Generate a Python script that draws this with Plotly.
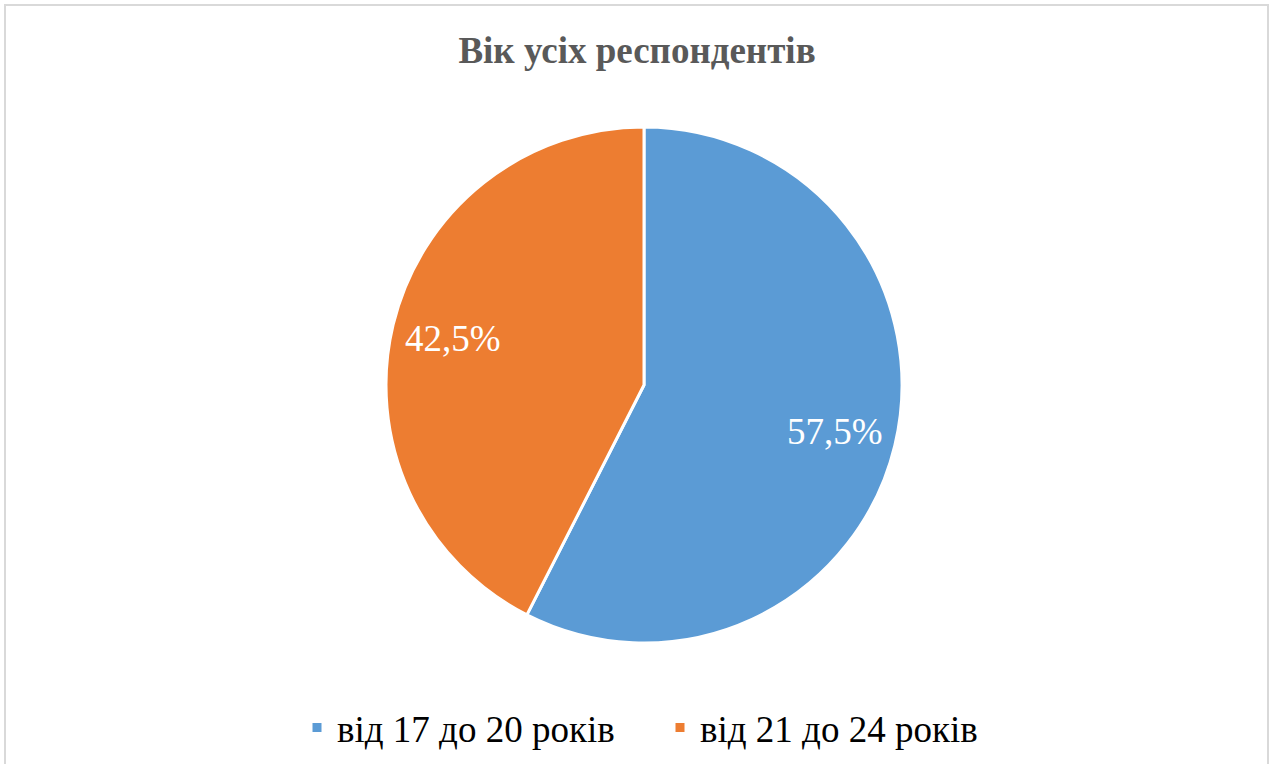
import math
import plotly.graph_objects as go

categories = ["від 17 до 20 років", "від 21 до 24 років"]
values = [57.5, 42.5]
colors = ["#5B9BD5", "#ED7D31"]
title_text = "Вік усіх респондентів"

W, H = 1273, 764
cx, cy, r = 644, 385, 258
FONT = "Liberation Serif, Times New Roman, serif"

fig = go.Figure(go.Pie(
    labels=categories,
    values=values,
    sort=False,
    direction="clockwise",
    rotation=0,
    marker=dict(colors=colors, line=dict(color="white", width=3)),
    textinfo="none",
    hoverinfo="label+percent",
    domain=dict(x=[(cx - r) / W, (cx + r) / W], y=[(H - cy - r) / H, (H - cy + r) / H]),
))

# data labels placed along each slice's mid-angle (Excel-style, ~0.76 radius)
total = sum(values)
cum = 0.0
annotations = []
for v in values:
    mid = (cum + v / 2) / total * 2 * math.pi
    cum += v
    dx = math.sin(mid) * r * 0.76
    dy = math.cos(mid) * r * 0.78
    annotations.append(dict(
        x=(cx + dx) / W, y=(H - cy + dy) / H, xref="paper", yref="paper",
        text=f"{v:.1f}%".replace(".", ","), showarrow=False,
        font=dict(family=FONT, size=37, color="white"),
        xanchor="center", yanchor="middle",
    ))

fig.update_layout(
    width=W, height=H,
    margin=dict(l=0, r=0, t=0, b=0),
    paper_bgcolor="white",
    separators=",.",
    title=dict(text="<b>" + title_text + "</b>", x=0.5 + 0.5 / W, xanchor="center", y=1 - 50 / H, yanchor="middle",
               font=dict(family=FONT, size=37, color="#595959")),
    legend=dict(orientation="h", x=297 / W, xanchor="left", y=1 - 728 / H, yanchor="middle",
                font=dict(family=FONT, size=37, color="#000000"),
                entrywidth=318, entrywidthmode="pixels",
                traceorder="normal"),
    annotations=annotations,
    shapes=[dict(type="rect", xref="paper", yref="paper", x0=5 / W, x1=1268 / W, y0=-0.05, y1=1 - 5 / H,
                 line=dict(color="#D9D9D9", width=2), fillcolor="rgba(0,0,0,0)")],
)

fig.write_html("out.html", config={"displayModeBar": False},
               post_script="document.body.style.margin='0px';")
